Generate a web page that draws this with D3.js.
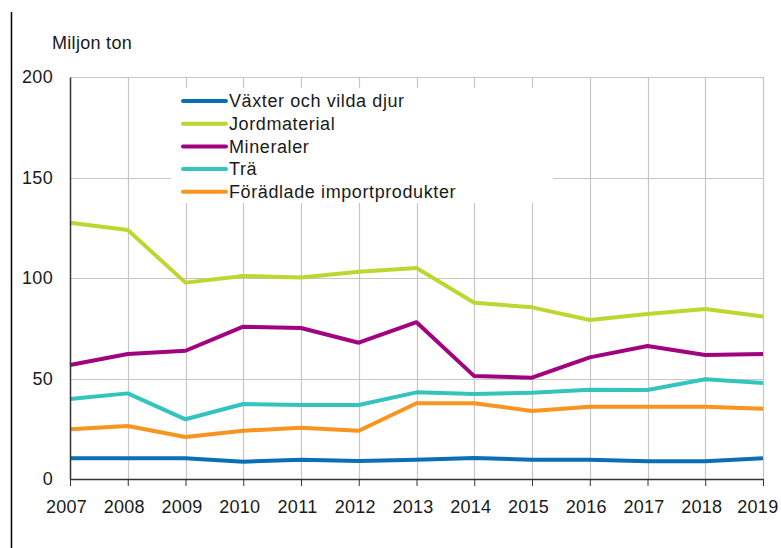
<!DOCTYPE html>
<html>
<head>
<meta charset="utf-8">
<script src="https://cdn.jsdelivr.net/npm/d3@7"></script>
<style>
    body { margin: 0; background: #fff; }
    svg text { font-family: "Liberation Sans", Arial, sans-serif; font-size: 18px; fill: #1a1a1a; letter-spacing: 0.3px; }
    svg .row text { letter-spacing: 0.6px; }
</style>
</head>
<body>
<div class="chart"></div>
<script>
// DATA //
var years = [2007, 2008, 2009, 2010, 2011, 2012, 2013, 2014, 2015, 2016, 2017, 2018, 2019];
var vaxter = [10.3, 10.3, 10.3, 8.6, 9.6, 9.0, 9.6, 10.4, 9.6, 9.6, 8.8, 8.8, 10.3];
var jordmaterial = [127.5, 123.9, 97.7, 101.0, 100.3, 103.1, 105.0, 87.7, 85.4, 79.1, 82.1, 84.6, 80.8];
var mineraler = [56.7, 62.2, 63.8, 75.8, 75.1, 67.8, 78.0, 51.2, 50.4, 60.5, 66.2, 61.7, 62.2];
var tra = [39.8, 42.6, 29.7, 37.3, 36.8, 36.8, 43.1, 42.3, 42.9, 44.4, 44.3, 49.6, 47.8];
var foradlade = [24.7, 26.4, 20.9, 24.0, 25.5, 24.0, 37.7, 37.7, 33.8, 36.0, 36.0, 36.0, 35.0];
var yTicks = [0, 50, 100, 150, 200];

var series = [
    { name: 'Växter och vilda djur', values: vaxter, color: '#0a6fb4' },
    { name: 'Jordmaterial', values: jordmaterial, color: '#bfd631' },
    { name: 'Mineraler', values: mineraler, color: '#a1027f' },
    { name: 'Trä', values: tra, color: '#33c4bd' },
    { name: 'Förädlade importprodukter', values: foradlade, color: '#f8941f' }
];

var width = 781, height = 548;
var margin = { top: 77, right: 18, bottom: 69, left: 70 };

var svg = d3.select('.chart').append('svg')
    .attr('width', width)
    .attr('height', height);

// frame line at the far left
svg.append('line')
    .attr('x1', 11.5).attr('x2', 11.5)
    .attr('y1', 12).attr('y2', height)
    .attr('stroke', '#000').attr('stroke-width', 1.5);

var xScale = d3.scaleLinear().domain([2007, 2019]).range([margin.left, width - margin.right]);
var yScale = d3.scaleLinear().domain([0, 200]).range([height - margin.bottom, margin.top]);

var g = svg.append('g');

// gridlines
g.selectAll('.hgrid').data(yTicks.slice(1)).enter().append('line')
    .attr('class', 'hgrid')
    .attr('x1', margin.left).attr('x2', width - margin.right)
    .attr('y1', function(d) { return Math.round(yScale(d)) + 0.5; })
    .attr('y2', function(d) { return Math.round(yScale(d)) + 0.5; })
    .attr('stroke', '#c6c6c6').attr('stroke-width', 1.2);

g.selectAll('.vgrid').data(years.slice(1)).enter().append('line')
    .attr('class', 'vgrid')
    .attr('x1', function(d) { return Math.round(xScale(d)) + 0.5; })
    .attr('x2', function(d) { return Math.round(xScale(d)) + 0.5; })
    .attr('y1', margin.top).attr('y2', yScale(0))
    .attr('stroke', '#c6c6c6').attr('stroke-width', 1.2);

// legend box (covers the gridlines)
var legend = svg.append('g');
legend.append('rect')
    .attr('x', 171).attr('y', 88)
    .attr('width', 382).attr('height', 115)
    .attr('fill', '#fff');

// y axis
var yAxis = svg.append('g')
    .attr('transform', 'translate(' + margin.left + ',0)')
    .call(d3.axisLeft(yScale).tickValues(yTicks).tickSize(0).tickPadding(17));
yAxis.select('.domain').attr('stroke', '#333').attr('stroke-width', 1.5);
yAxis.selectAll('text').style('font-size', '18px').attr('fill', '#1a1a1a');

// x axis
var xAxis = svg.append('g')
    .attr('transform', 'translate(0,' + yScale(0) + ')')
    .call(d3.axisBottom(xScale).tickValues(years).tickFormat(d3.format('d')).tickSize(7).tickSizeOuter(0).tickPadding(14));
xAxis.select('.domain').attr('stroke', '#333').attr('stroke-width', 1.5);
xAxis.selectAll('.tick line').attr('stroke', '#333');
xAxis.selectAll('text').style('font-size', '18px').attr('fill', '#1a1a1a').attr('x', -4);
// last year label is pulled in so it stays inside the picture
xAxis.selectAll('.tick').filter(function(d) { return d === 2019; }).select('text')
    .attr('text-anchor', 'end').attr('x', 15);

// unit label
svg.append('text')
    .attr('x', 52).attr('y', 49)
    .text('Miljon ton');

// lines
var line = d3.line()
    .x(function(d, i) { return xScale(years[i]); })
    .y(function(d) { return yScale(d); });

g.selectAll('.line').data(series).enter().append('path')
    .attr('class', 'line')
    .attr('d', function(d) { return line(d.values); })
    .attr('fill', 'none')
    .attr('stroke', function(d) { return d.color; })
    .attr('stroke-width', 4)
    .attr('stroke-linejoin', 'round');

// legend rows
var rows = legend.selectAll('.row').data(series).enter().append('g')
    .attr('class', 'row')
    .attr('transform', function(d, i) { return 'translate(0,' + (101 + i * 22.7) + ')'; });

rows.append('line')
    .attr('x1', 183).attr('x2', 226)
    .attr('stroke', function(d) { return d.color; })
    .attr('stroke-width', 4)
    .attr('stroke-linecap', 'round');

rows.append('text')
    .attr('x', 229).attr('dy', '0.35em')
    .text(function(d) { return d.name; });
</script>
</body>
</html>
